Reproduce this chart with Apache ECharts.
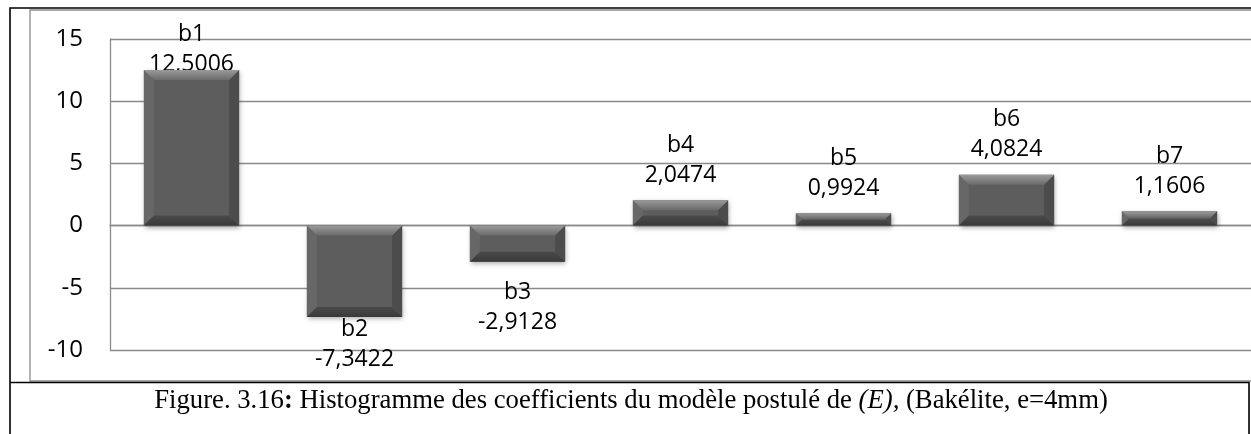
<!DOCTYPE html>
<html>
<head>
<meta charset="utf-8">
<script src="https://cdn.jsdelivr.net/npm/echarts@6/dist/echarts.min.js"></script>
<style>
html,body{margin:0;padding:0;background:#fff;}
#c{width:1251px;height:434px;}
</style>
</head>
<body>
<div id="c"></div>
<script>
// ---- data ----
const categories = ['b1', 'b2', 'b3', 'b4', 'b5', 'b6', 'b7'];
const coefValues = [12.5006, -7.3422, -2.9128, 2.0474, 0.9924, 4.0824, 1.1606];
const yTicks = [-10, -5, 0, 5, 10, 15];
const captionParts = ['Figure. 3.16', ':', ' Histogramme des coefficients du modèle postulé de ', '(E),', ' (Bakélite, e=4mm)'];

// label distance tweaks (Excel-like clamped labels)
const labelDist = [-9, -2, 16, 10, 10, 10, 10];

const chart = echarts.init(document.getElementById('c'), null, {renderer: 'canvas'});
const FONT = '"Open Sans", sans-serif';
const GRAY = '#8a8a8a';
const SERIF = '"Liberation Serif", "Times New Roman", serif';

const barData = coefValues.map((v, i) => ({
  value: v,
  label: {
    position: v >= 0 ? 'top' : 'bottom',
    distance: labelDist[i]
  }
}));

function fmt(v) { return v.toFixed(4).replace('.', ','); }

const option = {
  animation: false,
  grid: {left: 110, top: 39, height: 311, width: 1152, containLabel: false},
  xAxis: {
    type: 'category',
    data: categories,
    axisLine: {show: true, onZero: true, lineStyle: {color: GRAY, width: 1.3}},
    axisTick: {show: false},
    axisLabel: {show: false},
    splitLine: {show: false}
  },
  yAxis: {
    type: 'value',
    min: yTicks[0], max: yTicks[yTicks.length - 1], interval: 5,
    axisLine: {show: true, lineStyle: {color: GRAY, width: 1.3}},
    axisTick: {show: false},
    axisLabel: {color: '#000', fontFamily: FONT, fontSize: 24, margin: 27},
    splitLine: {show: true, lineStyle: {color: GRAY, width: 1.3}}
  },
  series: [
    {
      type: 'bar',
      data: barData,
      barWidth: '58.4%',
      itemStyle: {
        color: '#5d5d5d',
        shadowBlur: 5, shadowOffsetX: 1, shadowOffsetY: 2,
        shadowColor: 'rgba(0,0,0,0.35)'
      },
      label: {
        show: true,
        color: '#000',
        fontFamily: FONT,
        fontSize: 23,
        lineHeight: 30,
        formatter: p => p.name + '\n' + fmt(p.value)
      },
      z: 2
    },
    {
      type: 'custom',
      silent: true,
      z: 3,
      data: coefValues.map((v, i) => [i, v]),
      encode: {x: 0, y: 1},
      renderItem: function (params, api) {
        const idx = api.value(0), v = api.value(1);
        const p0 = api.coord([idx, 0]);
        const p1 = api.coord([idx, v]);
        const w = api.size([1, 0])[0] * 0.584;
        const x = p0[0] - w / 2;
        const y = Math.min(p0[1], p1[1]);
        const h = Math.abs(p1[1] - p0[1]);
        const b = Math.min(10, h / 2.2);
        const top = {
          type: 'polygon',
          shape: {points: [[x, y], [x + w, y], [x + w - b, y + b], [x + b, y + b]]},
          style: {fill: new echarts.graphic.LinearGradient(0, 0, 0, 1, [
            {offset: 0, color: '#9a9a9a'}, {offset: 1, color: '#6a6a6a'}])}
        };
        const left = {
          type: 'polygon',
          shape: {points: [[x, y], [x + b, y + b], [x + b, y + h - b], [x, y + h]]},
          style: {fill: '#676767'}
        };
        const right = {
          type: 'polygon',
          shape: {points: [[x + w, y], [x + w - b, y + b], [x + w - b, y + h - b], [x + w, y + h]]},
          style: {fill: '#4c4c4c'}
        };
        const bottom = {
          type: 'polygon',
          shape: {points: [[x, y + h], [x + b, y + h - b], [x + w - b, y + h - b], [x + w, y + h]]},
          style: {fill: new echarts.graphic.LinearGradient(0, 0, 0, 1, [
            {offset: 0, color: '#4a4a4a'}, {offset: 1, color: '#3a3a3a'}])}
        };
        return {type: 'group', children: [left, right, bottom, top]};
      }
    }
  ],
  graphic: [
    // gray chart area border
    {type: 'polyline', z: 1, silent: true,
     shape: {points: [[1260, 10], [30, 10], [30, 381], [1260, 381]]},
     style: {stroke: '#8c8c8c', lineWidth: 1.3, fill: null}},
    // outer black frame
    {type: 'polyline', z: 10, silent: true,
     shape: {points: [[1260, 8], [10, 8], [10, 440]]},
     style: {stroke: '#000', lineWidth: 1.6, fill: null}},
    // caption box
    {type: 'polyline', z: 10, silent: true,
     shape: {points: [[10, 382.5], [1249, 382.5], [1249, 440]]},
     style: {stroke: '#000', lineWidth: 1.6, fill: null}},
    {type: 'text', z: 10, silent: true, x: 631, y: 401,
     style: {
       text: '{n|' + captionParts[0] + '}{b|' + captionParts[1] + '}{n|' + captionParts[2] + '}{i|' + captionParts[3] + '}{n|' + captionParts[4] + '}',
       align: 'center', verticalAlign: 'middle',
       rich: {
         n: {fontFamily: SERIF, fontSize: 26.7, fill: '#000'},
         b: {fontFamily: SERIF, fontSize: 26.7, fontWeight: 'bold', fill: '#000'},
         i: {fontFamily: SERIF, fontSize: 26.7, fontStyle: 'italic', fill: '#000'}
       }
     }}
  ]
};
chart.setOption(option);
</script>
</body>
</html>
